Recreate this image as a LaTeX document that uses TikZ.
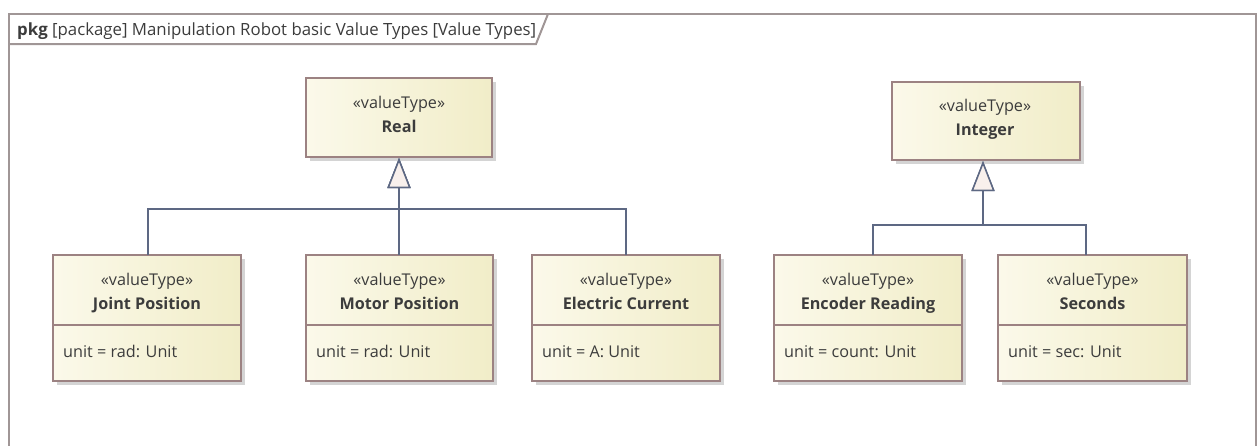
\documentclass[tikz,border=0pt]{standalone}
\usepackage{fontspec}
\setmainfont{Open Sans}
\usetikzlibrary{arrows.meta,calc,shadows}
\definecolor{frameC}{HTML}{A09696}
\definecolor{boxBorder}{HTML}{9C8282}
\definecolor{fillL}{HTML}{FBF9EA}
\definecolor{fillR}{HTML}{F1EDC8}
\definecolor{lineC}{HTML}{5D6883}
\definecolor{triC}{HTML}{F8F0EC}
\definecolor{txtC}{HTML}{3C3C3C}
\definecolor{shadowC}{HTML}{D4D4D4}
\tikzset{
  vtbox/.style={draw=boxBorder, line width=1.3pt, left color=fillL, right color=fillR,
    inner sep=0pt, outer sep=0pt},
  stereo/.style={text=txtC, font=\fontsize{16.2}{19}\selectfont, inner sep=0pt, anchor=base},
  vtname/.style={text=txtC, font=\fontsize{16.2}{19}\selectfont\bfseries, inner sep=0pt, anchor=base},
  attr/.style={text=txtC, font=\fontsize{16.2}{19}\selectfont, inner sep=0pt, anchor=base west},
  gen/.style={draw=lineC, line width=1.5pt,
    -{Triangle[open, length=30pt, width=23pt, line width=1.5pt, fill=triC]}},
  framebox/.style={draw=frameC, line width=2pt},
}
\newcommand{\myVT}[5]{%
  \fill[shadowC] (#2+4,#3+4) rectangle (#4+4,#5+4);
  \node[vtbox, minimum width=#4-#2, minimum height=#5-#3] (#1) at ({(#2+#4)/2},{(#3+#5)/2}) {};
}
\begin{document}
\begin{tikzpicture}[x=1pt,y=-1pt]
\useasboundingbox (0,0) rectangle (1258,445);
% frame
\draw[framebox] (9,450) -- (9,14) -- (1256,14) -- (1256,450);
\draw[framebox] (9,44) -- (536,44) -- (548,14);
\node[anchor=base west, text=txtC, font=\fontsize{16.8}{19}\selectfont, inner sep=0pt] (title) at (17,35) {\textbf{pkg} [package] Manipulation Robot basic Value Types [Value Types]};

% parents
\myVT{real}{306}{78}{492}{157}
\node[stereo] (realS) at (399,108) {«valueType»};
\node[vtname] (realN) at (399,132) {Real};
\myVT{int}{892}{82}{1080}{160}
\node[stereo] (intS) at (985,111) {«valueType»};
\node[vtname] (intN) at (985,135) {Integer};

% children
\newcommand{\child}[5]{%
  \myVT{#1}{#2}{255}{#3}{381}
  \draw[boxBorder, line width=1.3pt] (#2,325) -- (#3,325);
  \node[stereo] (#1S) at ({(#2+#3)/2},285) {«valueType»};
  \node[vtname] (#1N) at ({(#2+#3)/2},309) {#4};
  \node[attr] (#1A) at (#2+10,357) {#5};
}
\child{jp}{53}{241}{Joint Position}{unit = rad: Unit}
\child{mp}{306}{493}{Motor Position}{unit = rad: Unit}
\child{ec}{532}{720}{Electric Current}{unit = A: Unit}
\child{er}{774}{962}{Encoder Reading}{unit = count: Unit}
\child{sec}{998}{1187}{Seconds}{unit = sec: Unit}

% generalizations
\coordinate (jpT) at (148,255);
\coordinate (mpT) at (399,255);
\coordinate (ecT) at (626,255);
\coordinate (erT) at (873,255);
\coordinate (secT) at (1086,255);
\coordinate (realB) at (399,158);
\coordinate (intB) at (983,161);
\draw[gen] (jpT) |- (399,209) -- (realB);
\draw[gen] (ecT) |- (399,209) -- (realB);
\draw[gen] (mpT) -- (realB);
\draw[gen] (erT) |- (983,225) -- (intB);
\draw[gen] (secT) |- (983,225) -- (intB);
\end{tikzpicture}
\end{document}
